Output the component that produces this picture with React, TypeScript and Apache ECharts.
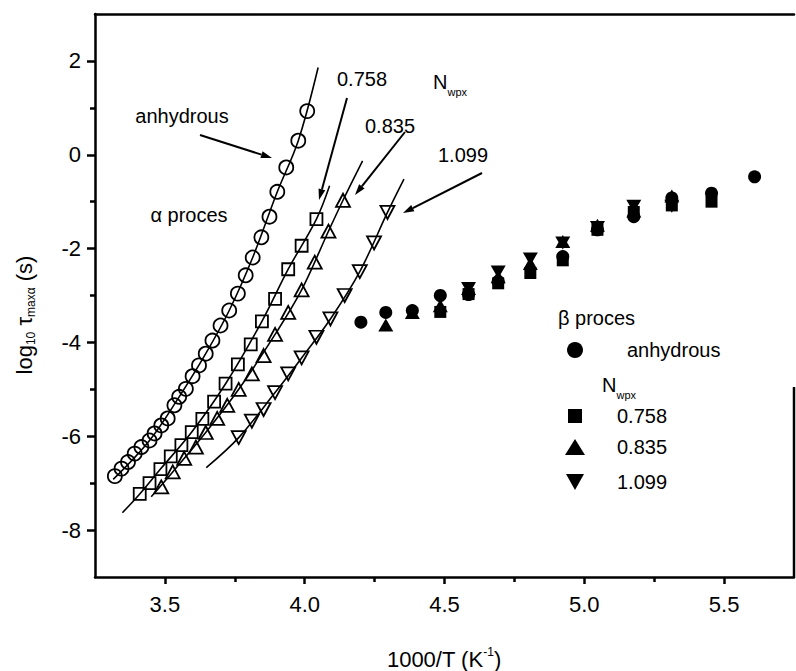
import React, { useEffect, useRef } from 'react';
import * as echarts from 'echarts';

const FONT = '"Liberation Sans", Arial, Helvetica, sans-serif';

// ---- alpha process (open symbols): [1000/T, log10 tau] ----
const alphaAnhydrous: [number, number][] = [
  [3.321, -6.85], [3.345, -6.69], [3.368, -6.55], [3.392, -6.37], [3.416, -6.23],
  [3.445, -6.09], [3.463, -5.94], [3.487, -5.77], [3.510, -5.62], [3.534, -5.34],
  [3.551, -5.16], [3.575, -4.99], [3.599, -4.72], [3.622, -4.49], [3.646, -4.24],
  [3.670, -3.96], [3.699, -3.64], [3.730, -3.32], [3.761, -2.96], [3.789, -2.57],
  [3.814, -2.19], [3.845, -1.76], [3.874, -1.32], [3.902, -0.79], [3.934, -0.27],
  [3.977, 0.30], [4.009, 0.93],
];
const alpha0758: [number, number][] = [
  [3.410, -7.23], [3.445, -7.00], [3.484, -6.70], [3.521, -6.43], [3.559, -6.19],
  [3.596, -5.91], [3.634, -5.63], [3.676, -5.26], [3.717, -4.88], [3.761, -4.47],
  [3.807, -4.04], [3.847, -3.55], [3.894, -3.07], [3.941, -2.44], [3.989, -1.94],
  [4.042, -1.37],
];
const alpha0835: [number, number][] = [
  [3.487, -7.08], [3.528, -6.76], [3.569, -6.47], [3.611, -6.23], [3.646, -5.92],
  [3.687, -5.62], [3.723, -5.34], [3.764, -5.00], [3.811, -4.67], [3.853, -4.28],
  [3.894, -3.83], [3.941, -3.36], [3.989, -2.88], [4.036, -2.29], [4.085, -1.63],
  [4.137, -0.97],
];
const alpha1099: [number, number][] = [
  [3.764, -6.03], [3.811, -5.68], [3.853, -5.43], [3.894, -5.07], [3.941, -4.67],
  [3.989, -4.33], [4.042, -3.89], [4.092, -3.50], [4.143, -3.00], [4.197, -2.49],
  [4.248, -1.88], [4.296, -1.23],
];

// ---- fitted curves ----
const fitAnhydrous: [number, number][] = [
  [3.315, -6.92], [3.445, -6.09], [3.551, -5.16], [3.646, -4.24], [3.730, -3.32],
  [3.814, -2.19], [3.902, -0.79], [3.977, 0.30], [4.048, 1.86],
];
const fit0758: [number, number][] = [
  [3.348, -7.63], [3.410, -7.23], [3.484, -6.70], [3.596, -5.91], [3.717, -4.88],
  [3.847, -3.55], [3.941, -2.44], [4.042, -1.37], [4.089, -0.66],
];
const fit0835: [number, number][] = [
  [3.451, -7.29], [3.528, -6.76], [3.646, -5.92], [3.764, -5.00], [3.894, -3.83],
  [3.989, -2.88], [4.085, -1.63], [4.137, -0.97], [4.207, -0.13],
];
const fit1099: [number, number][] = [
  [3.648, -6.67], [3.764, -6.03], [3.894, -5.07], [3.989, -4.33], [4.092, -3.50],
  [4.197, -2.49], [4.296, -1.23], [4.355, -0.52],
];

// ---- beta process (filled symbols) ----
const betaAnhydrous: [number, number][] = [
  [4.201, -3.57], [4.290, -3.36], [4.385, -3.32], [4.485, -3.00], [4.586, -2.98],
  [4.692, -2.70], [4.923, -2.17], [5.047, -1.60], [5.177, -1.32], [5.313, -0.92],
  [5.455, -0.82], [5.609, -0.47],
];
const beta0758: [number, number][] = [
  [4.485, -3.35], [4.586, -2.97], [4.692, -2.74], [4.807, -2.52], [4.923, -2.25],
  [5.047, -1.60], [5.177, -1.22], [5.313, -1.08], [5.455, -1.00],
];
const beta0835: [number, number][] = [
  [4.290, -3.63], [4.385, -3.36], [4.485, -3.22], [4.586, -2.85], [4.692, -2.60],
  [4.807, -2.32], [4.923, -1.85], [5.047, -1.50], [5.177, -1.20], [5.313, -0.88],
];
const beta1099: [number, number][] = [
  [4.586, -2.85], [4.692, -2.50], [4.807, -2.22], [4.923, -1.88], [5.047, -1.55],
  [5.177, -1.10], [5.313, -1.10],
];

// ---- axes ----
const xTickLabels = [3.5, 4.0, 4.5, 5.0, 5.5];
const xMinorTicks = [3.75, 4.25, 4.75, 5.25];
const yTickLabels = [-8, -6, -4, -2, 0, 2];
const yMinorTicks = [-7, -5, -3, -1, 1];

const legendNames = ['anhydrous', '0.758', '0.835', '1.099'];

function arrow(x1: number, y1: number, x2: number, y2: number) {
  const a = Math.atan2(y2 - y1, x2 - x1);
  const L = 11, W = 3.5;
  const c = Math.cos(a), s = Math.sin(a);
  const bx = x2 - L * c, by = y2 - L * s;
  return [
    { type: 'line', shape: { x1, y1, x2: bx, y2: by }, style: { stroke: '#000', lineWidth: 2 }, z: 10 },
    {
      type: 'polygon',
      shape: { points: [[x2, y2], [bx - W * s, by + W * c], [bx + W * s, by - W * c]] },
      style: { fill: '#000' },
      z: 10,
    },
  ];
}

function label(text: string, x: number, y: number, align = 'center', size = 20) {
  return {
    type: 'text', x, y, z: 10,
    style: { text, fontSize: size, fontFamily: FONT, fill: '#000', align, verticalAlign: 'middle' },
  };
}

export default function App() {
  const ref = useRef<HTMLDivElement>(null);
  useEffect(() => {
    if (!ref.current) return;
    const chart = echarts.init(ref.current, null, { renderer: 'svg' });

    const openStyle = { color: 'rgba(0,0,0,0)', borderColor: '#000', borderWidth: 1.8, opacity: 1 };
    const filledStyle = { color: '#000', opacity: 1 };
    const fitLine = (data: [number, number][]) => ({
      type: 'line', data, symbol: 'none', showSymbol: false, smooth: 0.35,
      lineStyle: { color: '#000', width: 1.6 }, z: 2, silent: true,
    });

    const rich = {
      m: { fontSize: 22, fontFamily: FONT, color: '#000', lineHeight: 26, verticalAlign: 'middle' },
      s: { fontSize: 12, fontFamily: FONT, color: '#000', lineHeight: 12, verticalAlign: 'bottom' },
      p: { fontSize: 12, fontFamily: FONT, color: '#000', lineHeight: 12, verticalAlign: 'top' },
      n: { fontSize: 20, fontFamily: FONT, fill: '#000', color: '#000', lineHeight: 30, verticalAlign: 'middle' },
      w: { fontSize: 11, fontFamily: FONT, fill: '#000', color: '#000', lineHeight: 11, verticalAlign: 'bottom' },
    };

    const graphic: any[] = [
      // partial right frame line
      { type: 'line', shape: { x1: 794, y1: 387, x2: 794, y2: 577 }, style: { stroke: '#000', lineWidth: 2.5 } },
      // axis titles
      {
        type: 'text', x: 444, y: 659,
        style: { text: '{m|1000/T (K}{p|-1}{m|)}', rich, align: 'center', verticalAlign: 'middle' },
      },
      {
        type: 'text', x: 24, y: 315, rotation: Math.PI / 2,
        style: { text: '{m|log}{s|10}{m| τ}{s|maxα}{m| (s)}', rich, align: 'center', verticalAlign: 'middle' },
      },
      // alpha annotations
      label('anhydrous', 182, 116),
      label('α proces', 189, 215),
      label('0.758', 362, 79),
      label('0.835', 390, 126),
      label('1.099', 463, 155),
      {
        type: 'text', x: 433, y: 82, z: 10,
        style: { text: '{n|N}{w|wpx}', rich, align: 'left', verticalAlign: 'middle' },
      },
      ...arrow(200, 135, 272, 158),
      ...arrow(347, 98, 319, 200),
      ...arrow(405, 132, 355, 195),
      ...arrow(482, 173, 403, 213),
      // beta legend
      label('β proces', 558, 318, 'left'),
      { type: 'circle', shape: { cx: 575, cy: 350, r: 8 }, style: { fill: '#000' } },
      label(legendNames[0], 627, 350, 'left'),
      {
        type: 'text', x: 602, y: 385,
        style: { text: '{n|N}{w|wpx}', rich, align: 'left', verticalAlign: 'middle' },
      },
      { type: 'rect', shape: { x: 568, y: 409, width: 14, height: 14 }, style: { fill: '#000' } },
      label(legendNames[1], 617, 416, 'left'),
      { type: 'polygon', shape: { points: [[575, 439], [585, 455], [565, 455]] }, style: { fill: '#000' } },
      label(legendNames[2], 617, 447, 'left'),
      { type: 'polygon', shape: { points: [[566, 474], [584, 474], [575, 490]] }, style: { fill: '#000' } },
      label(legendNames[3], 617, 482, 'left'),
    ];

    const option: any = {
      animation: false,
      backgroundColor: '#fff',
      grid: { left: 95, top: 14, width: 699, height: 563, containLabel: false },
      xAxis: [
        {
          type: 'value', min: 3.25, max: 5.75, position: 'bottom',
          axisLine: { onZero: false, lineStyle: { color: '#000', width: 2.5 } },
          axisTick: { customValues: xTickLabels, length: 7, lineStyle: { color: '#000', width: 2.5 } },
          axisLabel: {
            customValues: xTickLabels, formatter: (v: number) => v.toFixed(1),
            fontSize: 22, fontFamily: FONT, color: '#000', margin: 16,
          },
          splitLine: { show: false },
        },
        {
          type: 'value', min: 3.25, max: 5.75, position: 'bottom',
          axisLine: { show: false, onZero: false },
          axisTick: { customValues: xMinorTicks, length: 5, lineStyle: { color: '#000', width: 2.5 } },
          axisLabel: { show: false },
          splitLine: { show: false },
        },
        {
          type: 'value', min: 3.25, max: 5.75, position: 'top',
          axisLine: { onZero: false, lineStyle: { color: '#000', width: 2.5 } },
          axisTick: { show: false }, axisLabel: { show: false }, splitLine: { show: false },
        },
      ],
      yAxis: [
        {
          type: 'value', min: -9, max: 3, position: 'left',
          axisLine: { show: true, onZero: false, lineStyle: { color: '#000', width: 2.5 } },
          axisTick: { show: true, customValues: yTickLabels, length: 8, lineStyle: { color: '#000', width: 2.5 } },
          axisLabel: {
            customValues: yTickLabels, formatter: (v: number) => String(v),
            fontSize: 22, fontFamily: FONT, color: '#000', margin: 14,
          },
          splitLine: { show: false },
        },
        {
          type: 'value', min: -9, max: 3, position: 'left',
          axisLine: { show: false, onZero: false },
          axisTick: { show: true, customValues: yMinorTicks, length: 5, lineStyle: { color: '#000', width: 2.5 } },
          axisLabel: { show: false },
          splitLine: { show: false },
        },
      ],
      series: [
        fitLine(fitAnhydrous), fitLine(fit0758), fitLine(fit0835), fitLine(fit1099),
        { type: 'scatter', data: alphaAnhydrous, symbol: 'circle', symbolSize: 14, itemStyle: openStyle, z: 3 },
        { type: 'scatter', data: alpha0758, symbol: 'rect', symbolSize: 12, itemStyle: openStyle, z: 3 },
        { type: 'scatter', data: alpha0835, symbol: 'triangle', symbolSize: [14, 13], itemStyle: openStyle, z: 3 },
        { type: 'scatter', data: alpha1099, symbol: 'triangle', symbolRotate: 180, symbolSize: [14, 13], itemStyle: openStyle, z: 3 },
        { type: 'scatter', name: legendNames[0], data: betaAnhydrous, symbol: 'circle', symbolSize: 13, itemStyle: filledStyle, z: 3 },
        { type: 'scatter', name: legendNames[1], data: beta0758, symbol: 'rect', symbolSize: 12, itemStyle: filledStyle, z: 3 },
        { type: 'scatter', name: legendNames[2], data: beta0835, symbol: 'triangle', symbolSize: [15, 13], itemStyle: filledStyle, z: 3 },
        { type: 'scatter', name: legendNames[3], data: beta1099, symbol: 'triangle', symbolRotate: 180, symbolSize: [15, 13], itemStyle: filledStyle, z: 3 },
      ],
      graphic,
    };
    chart.setOption(option);
    return () => chart.dispose();
  }, []);

  return (
    <div
      ref={ref}
      style={{ position: 'fixed', left: 0, top: 0, width: 796, height: 671, background: '#fff' }}
    />
  );
}
